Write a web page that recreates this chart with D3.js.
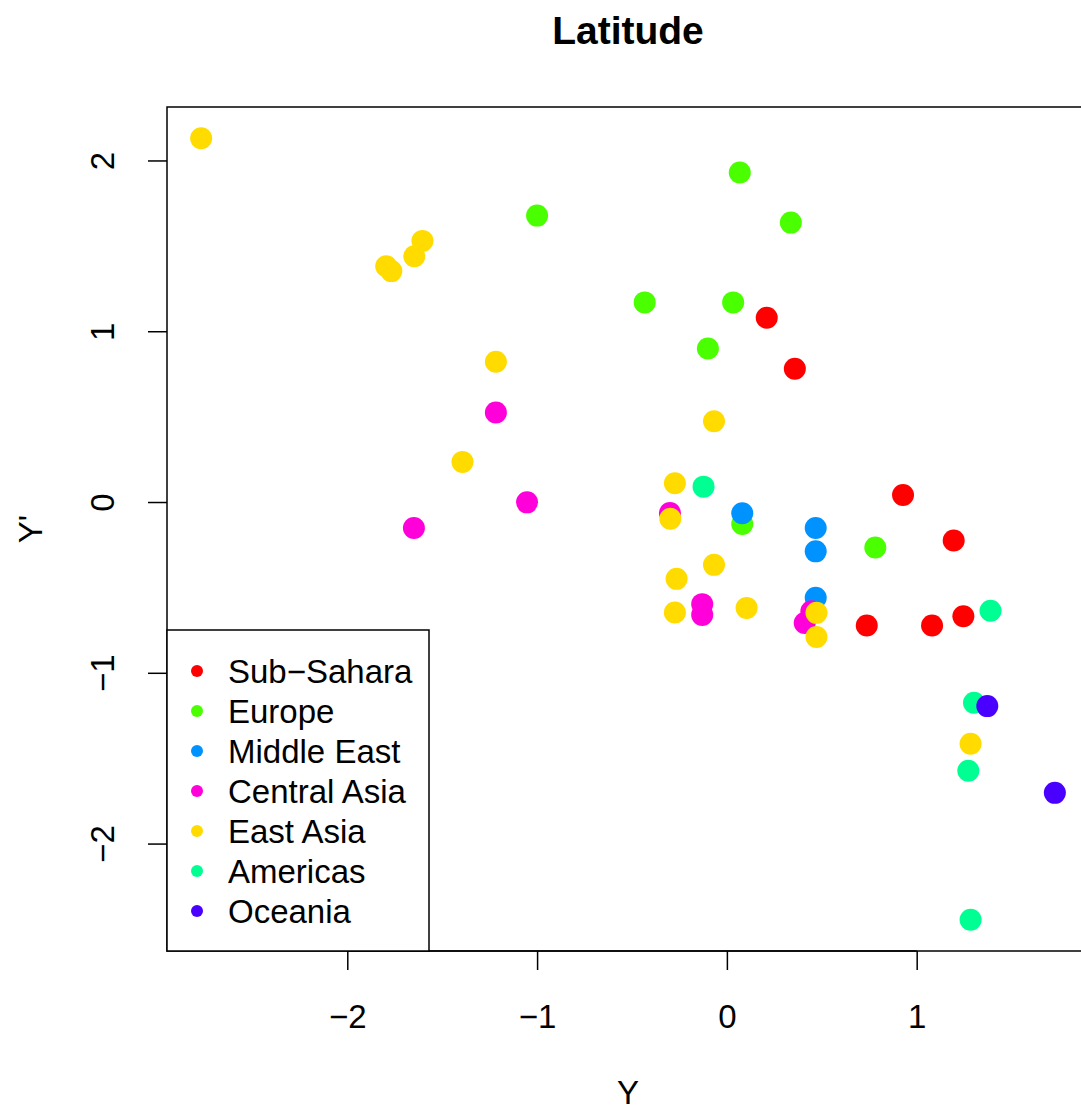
<!DOCTYPE html>
<html>
<head>
<meta charset="UTF-8" />
<title>Latitude</title>
<script src="https://d3js.org/d3.v7.min.js"></script>
<style>
  body { margin: 0; background: #fff; }
  text { font-family: "Liberation Sans", Arial, Helvetica, sans-serif; }
</style>
</head>
<body>
<svg id="chart" width="1081" height="1108"></svg>
<script>
// region names + colours (legend order)
var regions = ["Sub\u2212Sahara", "Europe", "Middle East", "Central Asia", "East Asia", "Americas", "Oceania"];
var colors  = ["#FF0000", "#49FF00", "#0092FF", "#FF00DB", "#FFDB00", "#00FF92", "#4900FF"];

// point coordinates [Y, Y'] per region
var subSahara   = [[0.21,1.079],[0.358,0.78],[0.928,0.041],[1.195,-0.225],[0.737,-0.723],[1.081,-0.723],[1.246,-0.669]];
var europe      = [[0.068,1.93],[0.337,1.636],[-0.433,1.169],[0.033,1.169],[-0.1,0.899],[-1.0,1.677],[0.081,-0.129],[0.782,-0.266]];
var middleEast  = [[0.081,-0.066],[0.468,-0.152],[0.468,-0.289],[0.468,-0.561]];
var centralAsia = [[-1.217,0.524],[-1.053,-0.002],[-1.649,-0.152],[-0.3,-0.065],[-0.13,-0.598],[-0.13,-0.661],[0.41,-0.708],[0.445,-0.64]];
var eastAsia    = [[-2.77,2.13],[-1.795,1.38],[-1.768,1.352],[-1.647,1.439],[-1.604,1.529],[-1.217,0.821],[-1.393,0.235],
                   [-0.068,0.473],[-0.274,0.11],[-0.298,-0.098],[-0.068,-0.368],[-0.265,-0.45],[-0.274,-0.647],
                   [0.104,-0.62],[0.472,-0.649],[0.472,-0.79],[1.284,-1.415]];
var americas    = [[-0.123,0.09],[1.389,-0.637],[1.302,-1.175],[1.272,-1.574],[1.284,-2.446]];
var oceania     = [[1.372,-1.195],[1.728,-1.703]];

var groups = [subSahara, europe, middleEast, centralAsia, eastAsia, americas, oceania];
var xTicks = [-2, -1, 0, 1];
var yTicks = [-2, -1, 0, 1, 2];

drawChart();

function drawChart() {
  var svg = d3.select("#chart");
  // plot region (right edge runs past the window, like the reference)
  var pL = 167, pR = 1089, pT = 107, pB = 951;
  var fs = 33;

  var pts = [];
  groups.forEach((g, gi) => g.forEach(p => pts.push({x: p[0], y: p[1], r: gi})));

  // R style: extend data range by 4%
  var xe = d3.extent(pts, d => d.x), ye = d3.extent(pts, d => d.y);
  var xPad = (xe[1] - xe[0]) * 0.04, yPad = (ye[1] - ye[0]) * 0.04;
  var xScale = d3.scaleLinear().domain([xe[0] - xPad, xe[1] + xPad]).range([pL, pR]);
  var yScale = d3.scaleLinear().domain([ye[0] - yPad, ye[1] + yPad]).range([pB, pT]);

  // points
  svg.append("g")
    .selectAll("circle")
    .data(pts)
    .enter()
    .append("circle")
    .attr("cx", d => xScale(d.x))
    .attr("cy", d => yScale(d.y))
    .attr("r", 11)
    .attr("fill", d => colors[d.r]);

  // axes
  var fmt = d => d < 0 ? "\u2212" + Math.abs(d) : "" + d;
  var xAxis = svg.append("g")
    .attr("transform", "translate(0," + pB + ")")
    .call(d3.axisBottom(xScale).tickValues(xTicks).tickSize(19).tickPadding(36).tickFormat(fmt));
  var yAxis = svg.append("g")
    .attr("transform", "translate(" + pL + ",0)")
    .call(d3.axisLeft(yScale).tickValues(yTicks).tickSize(19).tickPadding(14).tickFormat(fmt));
  [xAxis, yAxis].forEach(a => {
    a.select(".domain").remove();
    a.selectAll("line").attr("stroke", "#000").attr("stroke-width", 1.5);
    a.selectAll("text").attr("fill", "#000").style("font-size", fs + "px").attr("font-family", null);
  });
  xAxis.selectAll(".tick text").attr("dy", "0.35em").attr("y", 65);
  xAxis.append("line")
    .attr("x1", xScale(xTicks[0])).attr("x2", xScale(xTicks[xTicks.length - 1]))
    .attr("stroke", "#000").attr("stroke-width", 1.5);
  // rotate y tick labels like R
  yAxis.selectAll(".tick text")
    .attr("x", null).attr("dy", null)
    .attr("text-anchor", "middle")
    .attr("transform", "translate(-65,0) rotate(-90)")
    .attr("dy", "0.35em");

  // frame
  svg.append("rect")
    .attr("x", pL).attr("y", pT)
    .attr("width", pR - pL).attr("height", pB - pT)
    .attr("fill", "none").attr("stroke", "#000").attr("stroke-width", 1.5);

  // legend
  var lg = svg.append("g");
  lg.append("rect")
    .attr("x", pL).attr("y", 630)
    .attr("width", 262).attr("height", pB - 630)
    .attr("fill", "#fff").attr("stroke", "#000").attr("stroke-width", 1.5);
  var items = lg.selectAll("g.item")
    .data(regions)
    .enter()
    .append("g")
    .attr("class", "item")
    .attr("transform", (d, i) => "translate(0," + (671 + i * 40) + ")");
  items.append("circle")
    .attr("cx", 197).attr("cy", 0).attr("r", 6)
    .attr("fill", (d, i) => colors[i]);
  items.append("text")
    .attr("x", 228).attr("y", 0).attr("dy", "0.35em")
    .style("font-size", fs + "px")
    .text(d => d);

  // titles
  svg.append("text")
    .attr("x", (pL + pR) / 2).attr("y", 44)
    .attr("text-anchor", "middle")
    .style("font-size", "39px").style("font-weight", "bold")
    .text("Latitude");
  svg.append("text")
    .attr("x", (pL + pR) / 2).attr("y", 1104)
    .attr("text-anchor", "middle")
    .style("font-size", fs + "px")
    .text("Y");
  svg.append("text")
    .attr("transform", "translate(42," + (pT + pB) / 2 + ") rotate(-90)")
    .attr("text-anchor", "middle")
    .style("font-size", fs + "px")
    .text("Y'");
}
</script>
</body>
</html>
